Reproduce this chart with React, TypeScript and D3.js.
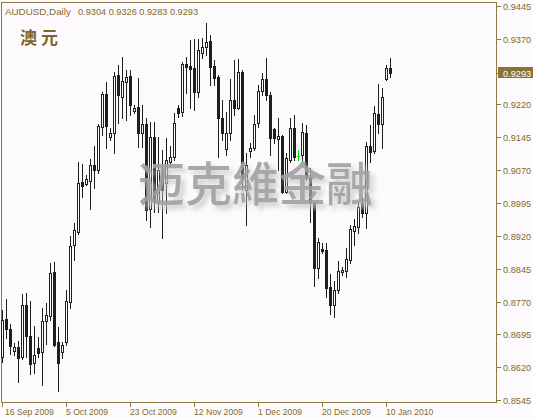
import React from 'react';
import * as d3 from 'd3';

// AUDUSD daily, 16 Sep 2009 .. 11 Jan 2010 (bars incl. Sunday sessions)
const opens = [
  0.8643, 0.8730, 0.8707, 0.8657, 0.8666, 0.8643, 0.8762, 0.8691, 0.8630, 0.8664,
  0.8655, 0.8726, 0.8737, 0.8838, 0.8678, 0.8655, 0.8678, 0.8769, 0.8899, 0.8929,
  0.9043, 0.9038, 0.9045, 0.9082, 0.9070, 0.9169, 0.9244, 0.9146, 0.9155, 0.9287,
  0.9237, 0.9271, 0.9285, 0.9205, 0.9214, 0.9155, 0.9175, 0.8981, 0.9146, 0.8995,
  0.9066, 0.9041, 0.9089, 0.9100, 0.9212, 0.9203, 0.9313, 0.9308, 0.9303, 0.9249,
  0.9338, 0.9351, 0.9365, 0.9308, 0.9283, 0.9189, 0.9118, 0.9155, 0.9230, 0.9212,
  0.9294, 0.9025, 0.9114, 0.9121, 0.9178, 0.9251, 0.9278, 0.9242, 0.9164, 0.9141,
  0.9148, 0.9020, 0.9093, 0.9166, 0.9102, 0.9105, 0.9155, 0.9054, 0.8995, 0.8847,
  0.8890, 0.8888, 0.8803, 0.8762, 0.8796, 0.8838, 0.8840, 0.8865, 0.8931, 0.8940,
  0.8995, 0.8972, 0.9125, 0.9114, 0.9198, 0.9175, 0.9278, 0.9304,
];
const highs = [
  0.8751, 0.8776, 0.8719, 0.8675, 0.8680, 0.8787, 0.8790, 0.8771, 0.8714, 0.8689,
  0.8755, 0.8767, 0.8858, 0.8861, 0.8712, 0.8678, 0.8796, 0.8920, 0.8949, 0.9089,
  0.9084, 0.9059, 0.9096, 0.9125, 0.9175, 0.9249, 0.9271, 0.9166, 0.9294, 0.9310,
  0.9329, 0.9299, 0.9299, 0.9219, 0.9281, 0.9219, 0.9189, 0.9180, 0.9180, 0.9146,
  0.9116, 0.9143, 0.9125, 0.9201, 0.9219, 0.9317, 0.9329, 0.9367, 0.9370, 0.9370,
  0.9372, 0.9406, 0.9379, 0.9322, 0.9287, 0.9230, 0.9203, 0.9278, 0.9322, 0.9324,
  0.9299, 0.9109, 0.9132, 0.9196, 0.9265, 0.9292, 0.9326, 0.9249, 0.9166, 0.9189,
  0.9150, 0.9109, 0.9189, 0.9196, 0.9116, 0.9178, 0.9173, 0.9075, 0.8997, 0.8915,
  0.8904, 0.8904, 0.8833, 0.8817, 0.8863, 0.8849, 0.8892, 0.8945, 0.8959, 0.8995,
  0.9009, 0.9134, 0.9173, 0.9217, 0.9267, 0.9258, 0.9310, 0.9326,
];
const lows = [
  0.8632, 0.8687, 0.8650, 0.8648, 0.8586, 0.8639, 0.8643, 0.8605, 0.8607, 0.8643,
  0.8579, 0.8673, 0.8728, 0.8668, 0.8566, 0.8641, 0.8671, 0.8755, 0.8865, 0.8924,
  0.9009, 0.9036, 0.8981, 0.9029, 0.9064, 0.9150, 0.9121, 0.9139, 0.9109, 0.9178,
  0.9189, 0.9185, 0.9196, 0.9201, 0.9123, 0.9123, 0.8956, 0.8941, 0.8975, 0.8975,
  0.8915, 0.8972, 0.9077, 0.9093, 0.9191, 0.9194, 0.9246, 0.9212, 0.9207, 0.9237,
  0.9326, 0.9333, 0.9265, 0.9265, 0.9100, 0.9139, 0.9105, 0.9139, 0.9196, 0.9210,
  0.9025, 0.8945, 0.9100, 0.9116, 0.9169, 0.9242, 0.9230, 0.9105, 0.9132, 0.9070,
  0.9018, 0.9018, 0.9089, 0.9093, 0.9093, 0.9089, 0.9048, 0.8952, 0.8806, 0.8824,
  0.8881, 0.8781, 0.8742, 0.8735, 0.8789, 0.8831, 0.8826, 0.8858, 0.8899, 0.8927,
  0.8963, 0.8938, 0.9089, 0.9109, 0.9155, 0.9121, 0.9276, 0.9283,
];
const closes = [
  0.8728, 0.8707, 0.8668, 0.8666, 0.8641, 0.8762, 0.8691, 0.8627, 0.8648, 0.8652,
  0.8726, 0.8740, 0.8835, 0.8671, 0.8630, 0.8671, 0.8771, 0.8897, 0.8933, 0.9041,
  0.9034, 0.9050, 0.9082, 0.9070, 0.9171, 0.9244, 0.9171, 0.9155, 0.9285, 0.9242,
  0.9274, 0.9283, 0.9219, 0.9212, 0.9155, 0.9175, 0.8979, 0.9146, 0.8998, 0.9070,
  0.9025, 0.9093, 0.9100, 0.9178, 0.9201, 0.9313, 0.9306, 0.9301, 0.9249, 0.9345,
  0.9351, 0.9363, 0.9306, 0.9281, 0.9189, 0.9155, 0.9155, 0.9230, 0.9212, 0.9294,
  0.9052, 0.9082, 0.9121, 0.9175, 0.9251, 0.9278, 0.9242, 0.9144, 0.9144, 0.9148,
  0.9020, 0.9098, 0.9166, 0.9100, 0.9102, 0.9157, 0.9052, 0.8995, 0.8847, 0.8906,
  0.8886, 0.8801, 0.8762, 0.8796, 0.8840, 0.8842, 0.8867, 0.8936, 0.8943, 0.8986,
  0.8972, 0.9125, 0.9112, 0.9201, 0.9175, 0.9237, 0.9303, 0.9293,
];

const dateLabels = ['16 Sep 2009', '5 Oct 2009', '23 Oct 2009', '12 Nov 2009', '1 Dec 2009', '20 Dec 2009', '10 Jan 2010'];
const dateBars = [0, 16, 32, 48, 64, 80, 96];
const priceTicks = [0.9445, 0.937, 0.922, 0.9145, 0.907, 0.8995, 0.892, 0.8845, 0.877, 0.8695, 0.862, 0.8545];
const lastPrice = 0.9293;

const W = 533;
const H = 419;
const frameColor = '#8c7840';
const textColor = '#7f6a2c';
const candleColor = '#1e1e1e';

const App: React.FC = () => {
  const x = d3.scaleLinear().domain([0, opens.length - 1]).range([2, 2 + 4 * (opens.length - 1)]);
  const y = d3.scaleLinear().domain([0.8545, 0.9445]).range([400, 6]);
  const ry = (p: number) => Math.round(y(p));

  const bars = d3.range(opens.length).map(i => ({
    i, o: opens[i], h: highs[i], l: lows[i], c: closes[i],
  }));

  return (
    <svg width={W} height={H} style={{ position: 'absolute', left: 0, top: 0, background: '#fdfafd' }}
      shapeRendering="crispEdges">
      <defs>
        <filter id="wm" x="-10%" y="-20%" width="130%" height="160%">
          <feGaussianBlur in="SourceAlpha" stdDeviation="2.5" result="b" />
          <feOffset in="b" dx="4" dy="4" result="o" />
          <feFlood floodColor="#c8c8c8" />
          <feComposite in2="o" operator="in" result="s" />
          <feMerge>
            <feMergeNode in="s" />
            <feMergeNode in="SourceGraphic" />
          </feMerge>
        </filter>
      </defs>

      {/* frame */}
      <rect x={1.5} y={2.5} width={495} height={400} fill="none" stroke={frameColor} />

      {/* candles */}
      {bars.map(b => {
        const cx = x(b.i);
        const top = ry(Math.max(b.o, b.c));
        const bot = ry(Math.min(b.o, b.c));
        const doji = b.o === b.c;
        const col = doji ? '#00e000' : candleColor;
        return (
          <g key={b.i}>
            <line x1={cx + 0.5} x2={cx + 0.5} y1={ry(b.h)} y2={ry(b.l) + 1} stroke={col} />
            {doji ? (
              <line x1={cx - 1} x2={cx + 2} y1={top + 0.5} y2={top + 0.5} stroke={col} />
            ) : b.c < b.o ? (
              <rect x={cx - 1} y={top} width={3} height={bot - top + 1} fill={candleColor} />
            ) : (
              <rect x={cx - 0.5} y={top + 0.5} width={2} height={Math.max(bot - top, 1)}
                fill="#ffffff" stroke={candleColor} />
            )}
          </g>
        );
      })}

      {/* watermark */}
      <text x={138} y={201} fontSize={47} fill="#a2a2a2" opacity={0.92} filter="url(#wm)"
        fontFamily="'Noto Sans CJK TC', 'Noto Sans CJK SC', sans-serif" fontWeight={500}
        shapeRendering="auto">迈克維金融</text>

      {/* price axis */}
      {priceTicks.map(p => (
        <g key={p}>
          <line x1={496} x2={501} y1={ry(p) + 0.5} y2={ry(p) + 0.5} stroke={frameColor} />
          <text x={503} y={ry(p) + 3.5} fontSize={9.2} fill={textColor}
            fontFamily="'Liberation Sans', Arial, sans-serif">{p.toFixed(4)}</text>
        </g>
      ))}
      <rect x={498} y={ry(lastPrice) - 6} width={35} height={11} fill="#8a7434" />
      <line x1={496} x2={501} y1={ry(lastPrice) + 0.5} y2={ry(lastPrice) + 0.5} stroke={frameColor} />
      <text x={503} y={ry(lastPrice) + 3.5} fontSize={9.2} fill="#ffffff"
        fontFamily="'Liberation Sans', Arial, sans-serif">{lastPrice.toFixed(4)}</text>

      {/* time axis */}
      {dateBars.map((bi, k) => (
        <g key={bi}>
          <line x1={x(bi) + 0.5} x2={x(bi) + 0.5} y1={403} y2={407} stroke={frameColor} />
          <text x={x(bi) + (k === 0 ? 3 : 0)} y={415} fontSize={8.6} fill={textColor}
            fontFamily="'Liberation Sans', Arial, sans-serif">{dateLabels[k]}</text>
        </g>
      ))}

      {/* title */}
      <text x={5} y={15} fontSize={9.8} fill={textColor} fontFamily="'Liberation Sans', Arial, sans-serif">
        AUDUSD,Daily
      </text>
      <text x={78} y={15} fontSize={9.2} fill={textColor} fontFamily="'Liberation Sans', Arial, sans-serif">
        {`${opens[opens.length - 1].toFixed(4)} ${highs[highs.length - 1].toFixed(4)} ${lows[lows.length - 1].toFixed(4)} ${closes[closes.length - 1].toFixed(4)}`}
      </text>
      <text x={20} y={44} fontSize={17} fontWeight={700} fill="#7a672c" letterSpacing={4}
        fontFamily="'Noto Sans CJK SC', sans-serif">澳元</text>
    </svg>
  );
};

export default App;
